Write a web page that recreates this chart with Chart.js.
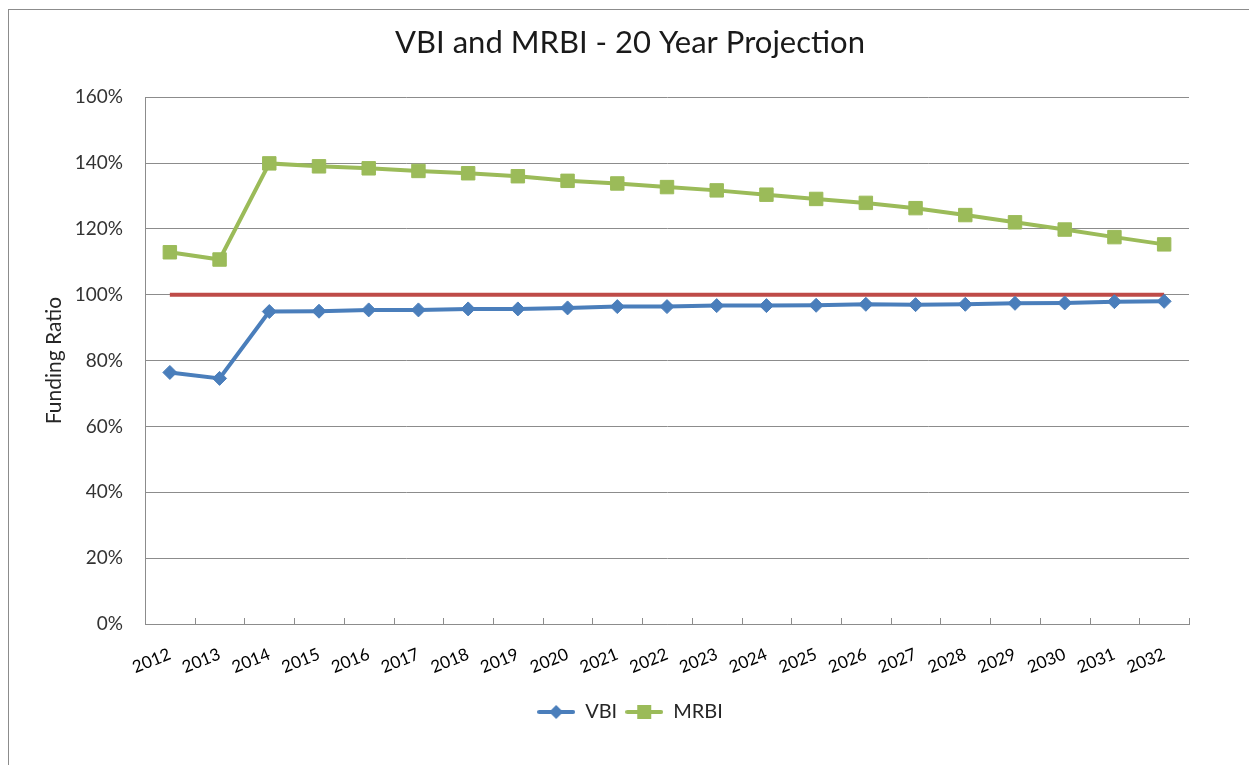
<!DOCTYPE html>
<html lang="en">
<head>
  <meta charset="UTF-8">
  <title>VBI and MRBI - 20 Year Projection</title>
  <style>
    body {
      margin: 0;
      padding: 0;
      background: #fff;
      overflow: hidden;
    }
    .frame {
      position: absolute;
      left: 8px;
      top: 9px;
      width: 1300px;
      height: 800px;
      border: 1px solid #8c8c8c;
    }
    .wrap {
      position: absolute;
      left: 0;
      top: 0;
      width: 1249px;
      height: 765px;
    }
  </style>
</head>
<body>
  <div class="frame"></div>
  <div class="wrap"><canvas id="myChart"></canvas></div>

  <script src="https://cdn.jsdelivr.net/npm/chart.js@4.4.0/dist/chart.umd.min.js"></script>
  <script>
    // data (percent)
    var years = ['2012', '2013', '2014', '2015', '2016', '2017', '2018', '2019', '2020', '2021',
                 '2022', '2023', '2024', '2025', '2026', '2027', '2028', '2029', '2030', '2031', '2032'];
    var vbi = [76.4, 74.6, 94.9, 95.0, 95.4, 95.4, 95.7, 95.7, 96.0, 96.4,
               96.4, 96.7, 96.7, 96.8, 97.1, 97.0, 97.1, 97.4, 97.5, 97.9, 98.0];
    var mrbi = [112.9, 110.7, 139.9, 139.0, 138.4, 137.6, 136.9, 136.0, 134.6, 133.8,
                132.7, 131.7, 130.4, 129.1, 127.9, 126.3, 124.2, 122.0, 119.8, 117.5, 115.3];
    var target = [100, 100, 100, 100, 100, 100, 100, 100, 100, 100,
                  100, 100, 100, 100, 100, 100, 100, 100, 100, 100, 100];
    var yTicks = [0, 20, 40, 60, 80, 100, 120, 140, 160];

    var blue = '#4a7ebb';
    var green = '#9bbb59';
    var red = '#be4b48';
    var font = 'Lato, "Open Sans", sans-serif';

    // small legend swatches: line with the marker in the middle
    function legendSwatch(color, shape) {
      var c = document.createElement('canvas');
      c.width = 38;
      c.height = 16;
      var g = c.getContext('2d');
      g.strokeStyle = color;
      g.lineWidth = 4;
      g.lineCap = 'round';
      g.beginPath();
      g.moveTo(2, 8);
      g.lineTo(36, 8);
      g.stroke();
      g.fillStyle = color;
      g.beginPath();
      if (shape === 'diamond') {
        g.moveTo(19, 1); g.lineTo(26, 8); g.lineTo(19, 15); g.lineTo(12, 8);
      } else {
        g.rect(12, 1, 14, 14);
      }
      g.closePath();
      g.fill();
      return c;
    }

    // Excel style tick marks pointing up into the plot, at category borders
    var innerTicks = {
      id: 'innerTicks',
      afterDatasetsDraw: function(chart) {
        var x = chart.scales.x;
        var ctx = chart.ctx;
        var n = x.ticks.length;
        var step = x.width / n;
        ctx.save();
        ctx.strokeStyle = '#8c8c8c';
        ctx.lineWidth = 1;
        ctx.beginPath();
        for (var i = 1; i <= n; i++) {
          var px = Math.round(x.left + i * step) + 0.5;
          ctx.moveTo(px, x.top);
          ctx.lineTo(px, x.top - 6);
        }
        ctx.stroke();
        ctx.restore();
      }
    };

    var ctx = document.getElementById('myChart').getContext('2d');
    var myChart = new Chart(ctx, {
      type: 'line',
      data: {
        labels: years,
        datasets: [
          {
            label: 'VBI',
            data: vbi,
            borderColor: blue,
            backgroundColor: blue,
            borderWidth: 4,
            pointStyle: 'rectRot',
            pointRadius: 7,
            pointBorderWidth: 1,
            tension: 0,
            order: 1
          },
          {
            label: 'MRBI',
            data: mrbi,
            borderColor: green,
            backgroundColor: green,
            borderWidth: 4,
            pointStyle: 'rect',
            pointRadius: 9.5,
            pointBorderWidth: 1,
            tension: 0,
            order: 2
          },
          {
            label: 'Target',
            data: target,
            borderColor: red,
            backgroundColor: red,
            borderWidth: 4,
            pointRadius: 0,
            tension: 0,
            order: 3
          }
        ]
      },
      options: {
        responsive: true,
        maintainAspectRatio: false,
        animation: false,
        layout: {
          padding: { left: 11, right: 0, top: 0, bottom: 33 }
        },
        plugins: {
          title: {
            display: true,
            text: 'VBI and MRBI - 20 Year Projection',
            color: '#1a1a1a',
            font: { family: font, size: 31, weight: 'normal' },
            padding: { top: 24, bottom: 36 }
          },
          legend: {
            position: 'bottom',
            labels: {
              usePointStyle: true,
              pointStyleWidth: 38,
              color: '#262626',
              font: { family: font, size: 20 },
              padding: 8,
              filter: function(item) { return item.text !== 'Target'; },
              generateLabels: function(chart) {
                var items = Chart.defaults.plugins.legend.labels.generateLabels(chart);
                items.forEach(function(it) {
                  if (it.text === 'VBI') it.pointStyle = legendSwatch(blue, 'diamond');
                  if (it.text === 'MRBI') it.pointStyle = legendSwatch(green, 'square');
                });
                return items;
              }
            }
          },
          tooltip: { enabled: false }
        },
        scales: {
          x: {
            offset: true,
            grid: { display: false },
            border: { display: true, color: '#8c8c8c', width: 1 },
            ticks: {
              color: '#000',
              font: { family: font, size: 17 },
              minRotation: 22,
              maxRotation: 22,
              autoSkip: false,
              padding: 12
            },
            afterFit: function(scale) { scale.height = 70; }
          },
          y: {
            min: 0,
            max: 160,
            afterBuildTicks: function(scale) {
              scale.ticks = yTicks.map(function(v) { return { value: v }; });
            },
            grid: { color: '#8c8c8c', lineWidth: 1, drawTicks: false },
            border: { display: true, color: '#8c8c8c', width: 1 },
            ticks: {
              color: '#333',
              font: { family: font, size: 19 },
              padding: 22,
              callback: function(v) { return v + '%'; }
            },
            title: {
              display: true,
              text: 'Funding Ratio',
              color: '#262626',
              font: { family: font, size: 21 },
              padding: { top: 31, bottom: 0 }
            },
            afterFit: function(scale) { scale.width = 134; }
          },
          // empty right axis that only keeps the plot clear of the right edge
          yr: {
            position: 'right',
            display: true,
            grid: { display: false, drawTicks: false },
            border: { display: false },
            ticks: { display: false },
            afterFit: function(scale) { scale.width = 60; }
          }
        }
      },
      plugins: [innerTicks]
    });
  </script>
</body>
</html>
